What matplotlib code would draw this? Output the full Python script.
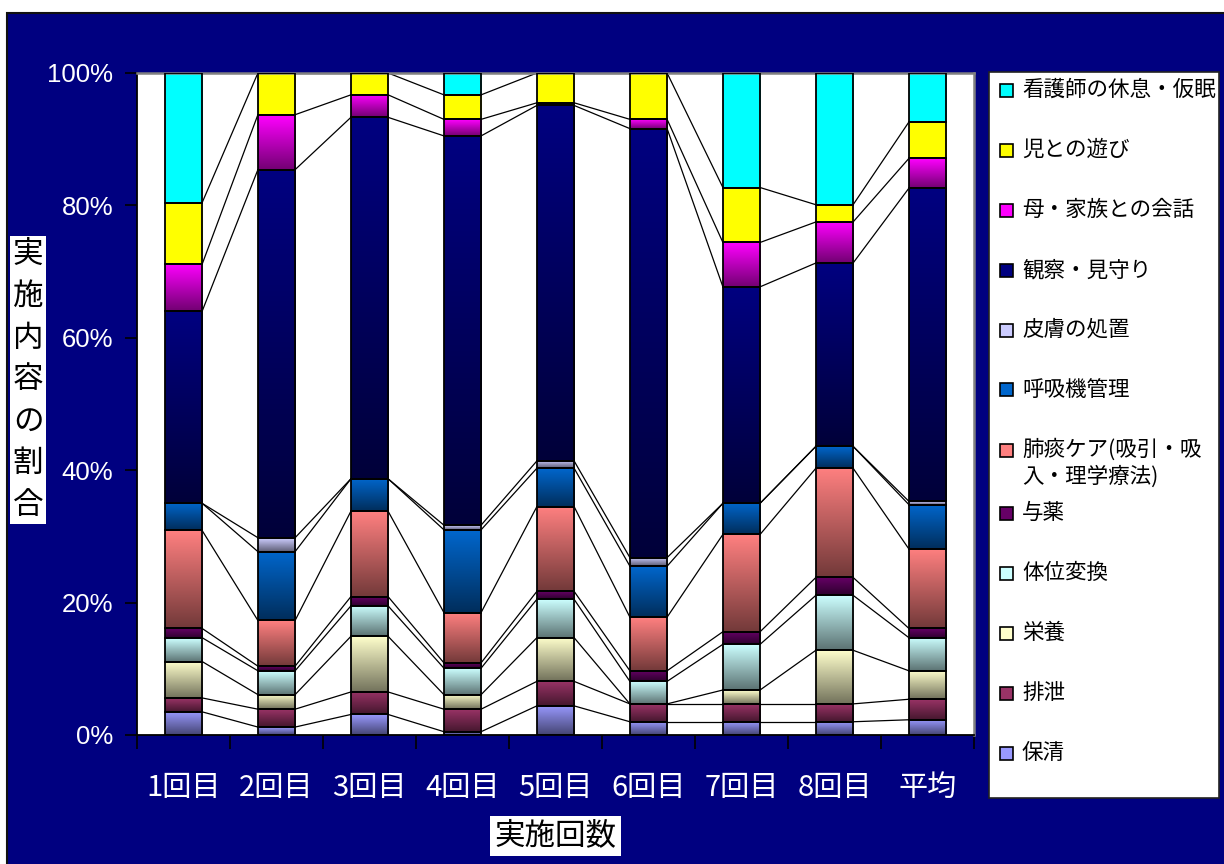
import numpy as np
import matplotlib.pyplot as plt
from matplotlib.colors import to_rgb
from matplotlib.patches import Rectangle

plt.rcParams['font.family'] = ['Noto Sans CJK JP', 'DejaVu Sans']

categories = ['1回目', '2回目', '3回目', '4回目', '5回目', '6回目', '7回目', '8回目', '平均']

# 実施内容の内訳 (%)  下から積み上げる順
seiketsu = [3.5, 1.2, 3.1, 0.5, 4.4, 2.0, 2.0, 2.0, 2.3]      # 保清
haisetsu = [2.1, 2.7, 3.4, 3.4, 3.7, 2.7, 2.7, 2.7, 3.1]      # 排泄
eiyou = [5.5, 2.2, 8.4, 2.2, 6.6, 0.0, 2.1, 8.1, 4.3]         # 栄養
taii = [3.6, 3.6, 4.6, 4.0, 5.8, 3.4, 6.9, 8.3, 5.0]          # 体位変換
yoyaku = [1.4, 0.7, 1.4, 0.8, 1.2, 1.6, 1.9, 2.7, 1.4]        # 与薬
haitan = [14.8, 6.9, 12.9, 7.6, 12.8, 8.1, 14.7, 16.5, 12.0]  # 肺痰ケア
kokyuki = [4.1, 10.4, 4.9, 12.5, 5.8, 7.7, 4.7, 3.3, 6.7]     # 呼吸機管理
hifu = [0.0, 2.1, 0.0, 0.7, 1.1, 1.3, 0.0, 0.0, 0.5]          # 皮膚の処置
kansatsu = [29.0, 55.6, 54.6, 58.8, 53.7, 64.8, 32.7, 27.7, 47.3]  # 観察・見守り
kaiwa = [7.1, 8.3, 3.4, 2.5, 0.4, 1.4, 6.7, 6.2, 4.5]         # 母・家族との会話
asobi = [9.3, 6.3, 3.3, 3.7, 4.5, 7.0, 8.3, 2.6, 5.5]         # 児との遊び
kyusoku = [19.6, 0.0, 0.0, 3.3, 0.0, 0.0, 17.3, 19.9, 7.4]    # 看護師の休息・仮眠

series = [seiketsu, haisetsu, eiyou, taii, yoyaku, haitan,
          kokyuki, hifu, kansatsu, kaiwa, asobi, kyusoku]
labels = ['保清', '排泄', '栄養', '体位変換', '与薬', '肺痰ケア(吸引・吸\n入・理学療法)',
          '呼吸機管理', '皮膚の処置', '観察・見守り', '母・家族との会話', '児との遊び',
          '看護師の休息・仮眠']
colors = ['#9999FF', '#993366', '#FFFFCC', '#CCFFFF', '#660066', '#FF8080',
          '#0066CC', '#CCCCFF', '#000080', '#FF00FF', '#FFFF00', '#00FFFF']
shaded = [True] * 10 + [False, False]

W, H = 1224, 864
navy = '#000080'

fig = plt.figure(figsize=(W / 100, H / 100), dpi=100)
fig.patch.set_facecolor('white')
fig.patches.append(Rectangle((7 / W, -0.01), 1.0, 1.01 - 13 / H, transform=fig.transFigure,
                             fc=navy, ec='#111111', lw=1.5, zorder=-10))

ax = fig.add_axes([137 / W, 1 - 735 / H, (974 - 137) / W, (735 - 73) / H])
ax.set_zorder(1)
ax.set_facecolor('white')

x = np.arange(len(categories))
width = 0.4
bottom = np.zeros(len(categories))
tops = []
for vals, col, grad in zip(series, colors, shaded):
    vals = np.array(vals)
    c0 = np.array(to_rgb(col))
    c1 = c0 * 0.45 if grad else c0
    t = np.linspace(0, 1, 64)[:, None, None]
    img = c0 * (1 - t) + c1 * t
    for i in range(len(categories)):
        if vals[i] > 0:
            ax.imshow(img, extent=(x[i] - width / 2, x[i] + width / 2, bottom[i], bottom[i] + vals[i]),
                      aspect='auto', origin='upper', interpolation='bilinear', zorder=2)
    ax.bar(x, vals, width, bottom=bottom, facecolor='none', edgecolor='black', lw=1.3, zorder=3)
    bottom = bottom + vals
    tops.append(bottom.copy())

# 系列線
for cum in tops[:-1]:
    for i in range(len(categories) - 1):
        ax.plot([x[i] + width / 2, x[i + 1] - width / 2], [cum[i], cum[i + 1]],
                color='black', lw=0.9, zorder=2.5)

ax.set_xlim(-0.5, len(categories) - 0.5)
ax.set_ylim(0, 100)

ax.set_xticks(x)
ax.set_xticklabels(categories, color='white', fontsize=21)
ax.set_xticks(np.arange(-0.5, len(categories), 1), minor=True)
ax.tick_params(axis='x', which='major', length=0, pad=27)
ax.tick_params(axis='x', which='minor', length=10, width=1.2, color='black', direction='out')

ax.set_yticks(np.arange(0, 101, 20))
ax.set_yticklabels([f'{v}%' for v in range(0, 101, 20)], color='white', fontsize=18.5,
                   family='Liberation Sans')
ax.tick_params(axis='y', length=9, width=1.2, color='black', direction='out', pad=8)

for side in ['left', 'bottom']:
    ax.spines[side].set_color('black')
    ax.spines[side].set_linewidth(1.3)
for side in ['top', 'right']:
    ax.spines[side].set_color('#808080')
    ax.spines[side].set_linewidth(1.8)

ax.set_xlabel('実施回数', fontsize=22, color='black',
              bbox=dict(fc='white', ec='none', pad=3))
ax.xaxis.set_label_coords(0.5, -(836 - 735) / 662)
ax.xaxis.label.set_va('center')

ax.set_ylabel('\n'.join('実施内容の割合'), fontsize=22, color='black', rotation=0,
              linespacing=1.45, bbox=dict(fc='white', ec='none', pad=2))
ax.yaxis.set_label_coords((28 - 137) / 837, (735 - 380) / 662)
ax.yaxis.label.set_va('center')
ax.yaxis.label.set_ha('center')

# 凡例
fig.patches.append(Rectangle((989 / W, 1 - 798 / H), (1219 - 989) / W, (798 - 72) / H,
                             transform=fig.transFigure, fc='white', ec='#222222', lw=1.2, zorder=1))
legend_y = [90, 150, 210, 270, 330, 390, 450, 513, 573, 633, 693, 753]
for ly, lab, col in zip(legend_y, labels[::-1], colors[::-1]):
    fig.patches.append(Rectangle((1000 / W, 1 - (ly + 6.5) / H), 13 / W, 13 / H,
                                 transform=fig.transFigure, fc=col, ec='black', lw=1.2, zorder=2))
    if '\n' in lab:
        fig.text(1022 / W, 1 - (ly - 12) / H, lab, fontsize=15.5, va='top', ha='left',
                 linespacing=1.3, zorder=3)
    else:
        fig.text(1022 / W, 1 - ly / H, lab, fontsize=15.5, va='center', ha='left', zorder=3)

fig.savefig('out.png', dpi=100, facecolor=fig.get_facecolor())
